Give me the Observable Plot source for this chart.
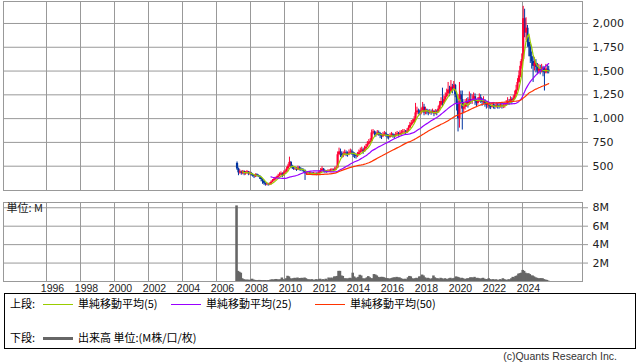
<!DOCTYPE html>
<html><head><meta charset="utf-8">
<script src="https://cdn.jsdelivr.net/npm/d3@7"></script>
<script src="https://cdn.jsdelivr.net/npm/@observablehq/plot@0.6"></script>
<style>
html,body{margin:0;padding:0;background:#fff;}
#chart{position:relative;width:638px;height:362px;overflow:hidden;background:#fff;}
#chart > svg{position:absolute;left:0;}
</style></head><body><div id="chart"></div>
<script>
// ---- data (monthly, March 2007 – July 2025) ----
const startYear = 2007, startMonth = 3;
const firstOpen = 530;
const closes = [
  470, 430, 440, 425, 445, 420, 430, 440, 420, 425,                 // 2007 Mar–Dec
  410, 400, 390, 410, 400, 395, 380, 360, 340, 320, 305, 310,       // 2008
  305, 310, 330, 345, 360, 370, 380, 395, 410, 420, 400, 430,       // 2009
  440, 470, 500, 540, 500, 480, 470, 470, 460, 480, 470, 465,       // 2010
  455, 450, 420, 425, 430, 420, 425, 415, 420, 420, 415, 420,       // 2011
  430, 455, 470, 450, 445, 440, 445, 450, 455, 460, 455, 470,       // 2012
  480, 620, 650, 630, 610, 620, 640, 630, 620, 640, 650, 640,       // 2013
  620, 610, 600, 620, 640, 660, 670, 650, 680, 700, 730, 750,       // 2014
  760, 850, 860, 840, 830, 850, 840, 820, 810, 830, 840, 830,       // 2015
  810, 800, 820, 830, 820, 810, 830, 840, 830, 845, 850, 860,       // 2016
  860, 850, 870, 900, 930, 950, 960, 990, 1060, 1080, 1070, 1060,   // 2017
  1080, 1120, 1060, 1090, 1070, 1060, 1070, 1060, 1075, 1050, 1070, 1060, // 2018
  1100, 1140, 1180, 1160, 1200, 1230, 1260, 1300, 1280, 1330, 1310, 1350, // 2019
  1250, 1150, 1000, 1250, 1200, 1100, 1120, 1150, 1170, 1160, 1200, 1190, // 2020
  1200, 1230, 1180, 1160, 1190, 1220, 1200, 1170, 1190, 1160, 1140, 1150, // 2021
  1130, 1120, 1140, 1130, 1120, 1140, 1130, 1125, 1140, 1130, 1135, 1140, // 2022
  1160, 1180, 1170, 1200, 1190, 1210, 1250, 1300, 1380, 1450, 1550, 1620, // 2023
  2050, 1900, 1950, 1800, 1750, 1650, 1600, 1550, 1580, 1540, 1500, 1520, // 2024
  1500, 1530, 1490, 1480, 1520, 1510, 1500                                // 2025 Jan–Jul
];
const highs = [
  545, 480, 460, 450, 455, 450, 445, 455, 445, 440,
  435, 420, 410, 420, 420, 410, 400, 385, 365, 345, 325, 325,
  320, 325, 345, 360, 380, 385, 395, 415, 430, 440, 430, 450,
  460, 490, 520, 595, 550, 510, 495, 490, 485, 500, 495, 485,
  475, 470, 460, 440, 445, 440, 440, 435, 435, 435, 430, 435,
  445, 475, 495, 475, 460, 455, 460, 465, 470, 475, 470, 490,
  500, 650, 690, 680, 650, 650, 670, 660, 650, 670, 680, 670,
  650, 640, 630, 645, 670, 690, 700, 690, 710, 730, 760, 780,
  790, 880, 885, 870, 860, 875, 870, 855, 840, 855, 865, 855,
  835, 830, 845, 855, 845, 835, 855, 865, 855, 870, 875, 885,
  885, 875, 895, 925, 960, 980, 990, 1020, 1160, 1120, 1100, 1090,
  1110, 1170, 1150, 1120, 1100, 1090, 1095, 1090, 1100, 1085, 1095, 1090,
  1130, 1180, 1220, 1320, 1240, 1270, 1310, 1380, 1340, 1400, 1360, 1390,
  1360, 1260, 1180, 1380, 1290, 1290, 1170, 1200, 1210, 1220, 1280, 1260,
  1250, 1270, 1260, 1200, 1220, 1260, 1250, 1210, 1230, 1200, 1180, 1180,
  1160, 1150, 1165, 1160, 1150, 1165, 1160, 1150, 1165, 1160, 1160, 1165,
  1190, 1220, 1200, 1230, 1220, 1240, 1290, 1350, 1420, 1500, 1600, 1680,
  2180, 2150, 2060, 1980, 1850, 1780, 1700, 1650, 1640, 1620, 1580, 1570,
  1560, 1570, 1550, 1540, 1570, 1560, 1550
];
const lows = [
  455, 400, 415, 405, 410, 400, 405, 415, 400, 405,
  395, 385, 370, 380, 385, 380, 360, 335, 310, 300, 290, 295,
  290, 295, 300, 325, 340, 350, 365, 375, 390, 400, 380, 395,
  420, 435, 460, 490, 480, 465, 455, 455, 445, 455, 450, 445,
  440, 435, 350, 405, 410, 405, 410, 400, 405, 405, 400, 405,
  415, 425, 445, 430, 425, 425, 430, 435, 440, 440, 440, 450,
  455, 475, 610, 590, 580, 590, 610, 600, 595, 610, 620, 615,
  590, 580, 575, 590, 615, 635, 645, 625, 650, 670, 700, 720,
  740, 755, 830, 815, 805, 820, 815, 790, 780, 800, 815, 805,
  785, 775, 795, 805, 795, 785, 805, 815, 805, 820, 825, 835,
  835, 830, 845, 865, 895, 920, 935, 955, 980, 1040, 1040, 1030,
  1040, 1060, 1030, 1040, 1040, 1030, 1045, 1035, 1050, 1020, 1040, 1030,
  1060, 1090, 1130, 1120, 1150, 1180, 1220, 1250, 1230, 1270, 1260, 1290,
  1220, 1080, 860, 900, 1150, 880, 1050, 1090, 1120, 1110, 1140, 1150,
  1150, 1180, 1140, 1120, 1140, 1170, 1160, 1130, 1150, 1120, 1100, 1110,
  1100, 1095, 1110, 1100, 1095, 1110, 1100, 1100, 1110, 1100, 1105, 1110,
  1130, 1140, 1140, 1160, 1150, 1170, 1200, 1240, 1290, 1370, 1430, 1520,
  1600, 1850, 1820, 1750, 1650, 1580, 1520, 1380, 1500, 1480, 1460, 1470,
  1460, 1480, 1440, 1290, 1470, 1470, 1470
];
const volumes = [ // millions of shares
  8.2, 1.1, 1.0, 0.9, 0.3, 0.2, 0.15, 0.15, 0.15, 0.12,
  0.15, 0.25, 0.15, 0.12, 0.1, 0.1, 0.12, 0.1, 0.08, 0.1, 0.1, 0.08,
  0.1, 0.1, 0.15, 0.18, 0.15, 0.2, 0.22, 0.18, 0.15, 0.2, 0.38, 0.2,
  0.15, 0.3, 0.57, 0.5, 0.3, 0.25, 0.3, 0.35, 0.3, 0.38, 0.3, 0.32,
  0.35, 0.3, 0.38, 0.3, 0.2, 0.18, 0.15, 0.2, 0.15, 0.12, 0.2, 0.15,
  0.2, 0.25, 0.15, 0.2, 0.15, 0.25, 0.15, 0.38, 0.3, 0.38, 0.3, 0.5,
  0.5, 0.55, 1.1, 1.1, 0.6, 0.55, 0.3, 0.3, 0.25, 0.3, 0.35, 0.3,
  0.9, 0.5, 0.38, 0.3, 0.45, 0.68, 0.6, 0.3, 0.25, 0.3, 0.4, 0.53,
  0.4, 0.3, 0.3, 0.75, 0.7, 0.6, 0.45, 0.4, 0.45, 0.45, 0.4, 0.35,
  0.3, 0.3, 0.25, 0.3, 0.35, 0.4, 0.38, 0.45, 0.38, 0.4, 0.3, 0.25,
  0.2, 0.25, 0.2, 0.4, 0.55, 0.5, 0.3, 0.25, 0.3, 0.35, 0.3, 0.5,
  0.5, 0.7, 0.6, 0.4, 0.3, 0.35, 0.3, 0.2, 0.3, 0.6, 0.4, 0.3,
  0.3, 0.2, 0.35, 0.3, 0.2, 0.3, 0.25, 0.2, 0.3, 0.35, 0.25, 0.3,
  0.35, 0.5, 0.45, 0.4, 0.3, 0.35, 0.3, 0.2, 0.25, 0.3, 0.3, 0.4,
  0.4, 0.35, 0.45, 0.3, 0.35, 0.3, 0.25, 0.3, 0.35, 0.25, 0.2, 0.2,
  0.3, 0.2, 0.15, 0.2, 0.15, 0.18, 0.15, 0.1, 0.2, 0.15, 0.3, 0.2,
  0.15, 0.1, 0.2, 0.15, 0.3, 0.45, 0.4, 0.55, 0.6, 0.8, 0.85, 0.9,
  1.2, 1.1, 0.9, 0.8, 0.85, 0.75, 0.6, 0.6, 0.5, 0.4, 0.35, 0.3,
  0.3, 0.3, 0.3, 0.2, 0.15, 0.12, 0.05
];
const yearTicks = [1996, 1998, 2000, 2002, 2004, 2006, 2008, 2010, 2012, 2014, 2016, 2018, 2020, 2022, 2024];
const priceTicks = [500, 750, 1000, 1250, 1500, 1750, 2000];
const volTicks = [2, 4, 6, 8];
const maPeriods = [5, 25, 50];
const maColors = ["#99cc00", "#9900ff", "#ff3300"];
const maLabels = ["単純移動平均(5)", "単純移動平均(25)", "単純移動平均(50)"];

// ---- derived ----
const UP = "#ff0033", DOWN = "#0033a0", GRID = "#999", VOL = "#666";
const candles = closes.map((c, i) => {
  const m = startMonth - 1 + i;
  const t = startYear + (m + 0.5) / 12;
  const o = i === 0 ? firstOpen : closes[i - 1];
  return {t, o, c, h: Math.max(highs[i], o, c), l: Math.min(lows[i], o, c), up: c >= o};
});
function sma(n) {
  const out = [];
  for (let i = n - 1; i < closes.length; i++) {
    let s = 0;
    for (let k = i - n + 1; k <= i; k++) s += closes[k];
    out.push({t: candles[i].t, v: s / n});
  }
  return out;
}
const mas = maPeriods.map(sma);
const halfBar = 0.075;
const vol = volumes.map((v, i) => ({x1: candles[i].t - halfBar, x2: candles[i].t + halfBar, v}));
const xDomain = [1993.47, 2027.53];
const up = candles.filter(d => d.up), down = candles.filter(d => !d.up);

const chart = document.getElementById("chart");

const upper = Plot.plot({
  width: 638, height: 191,
  marginLeft: 3, marginRight: 56, marginTop: 1, marginBottom: 1,
  x: {domain: xDomain, axis: null},
  y: {domain: [244.5, 2231]},
  style: {fontFamily: "DejaVu Sans", fontSize: "11px", color: "#222", background: "transparent"},
  marks: [
    Plot.gridX(yearTicks, {stroke: GRID, strokeOpacity: 1}),
    Plot.gridY(priceTicks, {stroke: GRID, strokeOpacity: 1}),
    Plot.frame({stroke: GRID}),
    Plot.axisY(priceTicks, {anchor: "right", tickSize: 5, tickPadding: 5, tickFormat: d3.format(","), stroke: GRID, fill: "#222", label: null}),
    Plot.ruleX(down, {x: "t", y1: "l", y2: "h", stroke: DOWN, strokeWidth: 1}),
    Plot.ruleX(down, {x: "t", y1: "o", y2: "c", stroke: DOWN, strokeWidth: 2.2}),
    Plot.ruleX(up, {x: "t", y1: "l", y2: "h", stroke: UP, strokeWidth: 1}),
    Plot.ruleX(up, {x: "t", y1: "o", y2: "c", stroke: UP, strokeWidth: 2.2}),
    ...mas.map((d, k) => Plot.line(d, {x: "t", y: "v", stroke: maColors[k], strokeWidth: 1.2}))
  ]
});
upper.style.top = "0px";
chart.appendChild(upper);

const lower = Plot.plot({
  width: 638, height: 100,
  marginLeft: 3, marginRight: 56, marginTop: 6, marginBottom: 15,
  x: {domain: xDomain, axis: null},
  y: {domain: [0, 8.57]},
  style: {fontFamily: "DejaVu Sans", fontSize: "11px", color: "#222", background: "transparent", overflow: "visible"},
  marks: [
    Plot.gridX(yearTicks, {stroke: GRID, strokeOpacity: 1}),
    Plot.gridY(volTicks, {stroke: GRID, strokeOpacity: 1}),
    Plot.frame({stroke: GRID}),
    Plot.axisY(volTicks, {anchor: "right", tickSize: 5, tickPadding: 5, tickFormat: d => d + "M", stroke: GRID, fill: "#222", label: null}),
    Plot.rect(vol, {x1: "x1", x2: "x2", y1: 0, y2: "v", fill: VOL}),
    Plot.text(yearTicks, {x: d => d, frameAnchor: "bottom", lineAnchor: "top", dy: 3, dx: 6, text: d => String(d), fontFamily: "Liberation Sans", fontSize: 10.5, fill: "#222"}),
    Plot.text(["単位: M"], {frameAnchor: "top-left", textAnchor: "start", lineAnchor: "middle", dx: 3, dy: 6, text: d => d, fontFamily: "Noto Sans CJK JP", fontSize: 11, fill: "#222"})
  ]
});
lower.style.top = "196px";
chart.appendChild(lower);

// ---- legend box & caption ----
const svg = d3.create("svg").attr("width", 638).attr("height", 362)
  .style("top", "0px").style("pointer-events", "none")
  .style("font-family", "'Noto Sans CJK JP', sans-serif").style("font-size", "11px");
svg.append("rect").attr("x", 4.5).attr("y", 293.5).attr("width", 631).attr("height", 55)
  .attr("fill", "none").attr("stroke", "#000");
const row1 = 304, row2 = 338;
svg.append("text").attr("x", 10).attr("y", row1).attr("dy", "0.35em").text("上段:");
const legX = [43, 171, 315];
legX.forEach((x0, k) => {
  svg.append("line").attr("x1", x0).attr("x2", x0 + 30).attr("y1", row1 + 0.5).attr("y2", row1 + 0.5)
    .attr("stroke", maColors[k]).attr("stroke-width", 1);
  svg.append("text").attr("x", x0 + 35).attr("y", row1).attr("dy", "0.35em").text(maLabels[k]);
});
svg.append("text").attr("x", 10).attr("y", row2).attr("dy", "0.35em").text("下段:");
svg.append("line").attr("x1", 43).attr("x2", 73).attr("y1", row2 + 0.5).attr("y2", row2 + 0.5)
  .attr("stroke", VOL).attr("stroke-width", 3);
svg.append("text").attr("x", 78).attr("y", row2).attr("dy", "0.35em").text("出来高 単位:(M株/口/枚)");
svg.append("text").attr("x", 617).attr("y", 356).attr("dy", "0.35em").attr("text-anchor", "end")
  .style("font-family", "'Liberation Sans', sans-serif").style("font-size", "10.5px").attr("fill", "#333")
  .text("(c)Quants Research Inc.");
chart.appendChild(svg.node());
</script>
</body></html>
